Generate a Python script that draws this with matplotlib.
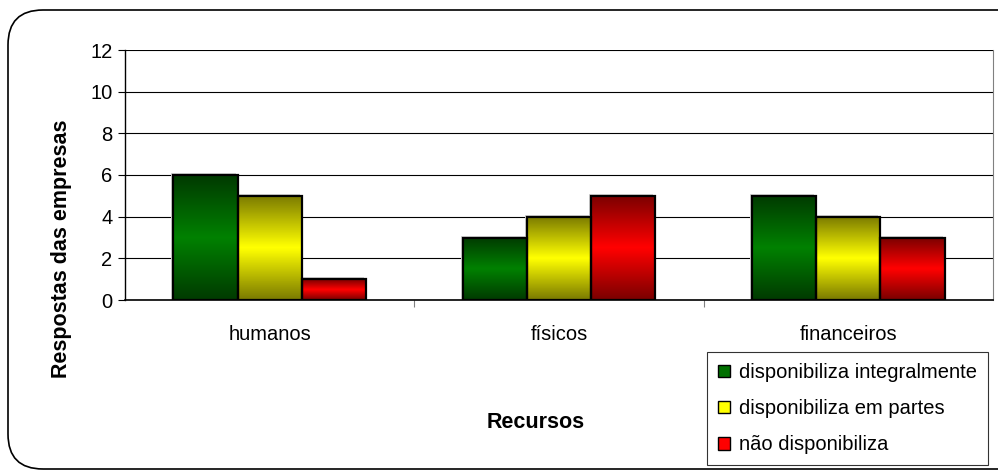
import numpy as np
import matplotlib.pyplot as plt
from matplotlib.colors import LinearSegmentedColormap
from matplotlib.patches import FancyBboxPatch, Rectangle

plt.rcParams['font.family'] = ['Liberation Sans', 'DejaVu Sans']

categorias = ["humanos", "físicos", "financeiros"]
series = ["disponibiliza integralmente", "disponibiliza em partes", "não disponibiliza"]
integral = [6, 3, 5]
partes = [5, 4, 4]
nao_disp = [1, 5, 3]
valores = [integral, partes, nao_disp]

# (dark, bright) pairs for the vertical gradient of each series
tons = [("#003a00", "#008000"), ("#7a7a00", "#ffff00"), ("#7a0000", "#ff0000")]
cores_legenda = ["#007000", "#ffff00", "#ff0000"]

fs = 14.5

fig = plt.figure(figsize=(9.98, 4.75), dpi=100)
ax = fig.add_axes([125 / 998, 1 - 300 / 475, 868 / 998, 250 / 475])

# rounded frame around the whole chart
frame = FancyBboxPatch((8 / 998, 6 / 475), 1.2, 1 - 16 / 475,
                       boxstyle="round,pad=0,rounding_size=0.035",
                       transform=fig.transFigure, facecolor="none",
                       edgecolor="black", linewidth=1.2, mutation_aspect=998 / 475,
                       clip_on=False)
fig.patches.append(frame)

x = np.arange(len(categorias))
largura = 0.222
grad = np.concatenate([np.linspace(0, 1, 50), np.linspace(1, 0, 50)]).reshape(-1, 1)

for i, (vals, (escuro, claro)) in enumerate(zip(valores, tons)):
    cmap = LinearSegmentedColormap.from_list(f"g{i}", [escuro, claro])
    pos = x + (i - 1) * largura
    bars = ax.bar(pos, vals, largura, facecolor="none", edgecolor="black",
                  linewidth=1.6, zorder=4)
    for b in bars:
        x0, y0 = b.get_x(), b.get_y()
        w, h = b.get_width(), b.get_height()
        # faint shadow on the upper-left side
        ax.add_patch(Rectangle((x0 - 0.007, y0), w, h + 0.09, facecolor="#d4d4d4",
                               edgecolor="none", zorder=2))
        im = ax.imshow(grad, cmap=cmap, aspect="auto",
                       extent=(x0, x0 + w, y0, y0 + h), zorder=3)
        im.set_clip_path(b)

ax.set_xlim(-0.5, 2.5)
ax.set_ylim(0, 12)
ax.set_yticks(range(0, 13, 2))
ax.yaxis.grid(True, color="black", linewidth=0.8)
ax.set_axisbelow(True)
ax.set_xticks([0.5, 1.5])
ax.set_xticks(x, minor=True)
ax.set_xticklabels(["", ""])
ax.set_xticklabels(categorias, minor=True)
ax.tick_params(axis="x", which="minor", length=0, pad=18, labelsize=fs)
ax.tick_params(axis="x", which="major", length=5, color="#808080", direction="out")
ax.tick_params(axis="y", length=5, direction="out", labelsize=fs, pad=4)
ax.spines["top"].set_visible(False)
ax.spines["right"].set_color("#808080")
ax.spines["left"].set_linewidth(1)
ax.spines["bottom"].set_linewidth(1.2)

# axis titles
fig.text(62 / 998, 1 - 249 / 475, "Respostas das empresas", fontsize=15.5,
         fontweight="bold", rotation=90, ha="center", va="center")
fig.text(536 / 998, 1 - 422 / 475, "Recursos", fontsize=15.5, fontweight="bold",
         ha="center", va="center")

# legend
handles = [Rectangle((0, 0), 1, 1, facecolor=c, edgecolor="black", linewidth=1)
           for c in cores_legenda]
leg = fig.legend(handles, series, loc="upper left",
                 bbox_to_anchor=(707 / 998, 1 - 352 / 475), fontsize=fs,
                 frameon=True, fancybox=False, edgecolor="black",
                 handlelength=0.6, handleheight=0.6, handletextpad=0.45,
                 labelspacing=0.85, borderpad=0.55, borderaxespad=0)
leg.get_frame().set_linewidth(0.8)

fig.savefig("out.png", dpi=100)
